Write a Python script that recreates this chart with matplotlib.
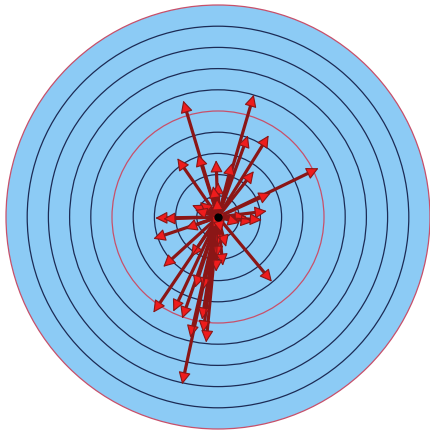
import numpy as np
import matplotlib
matplotlib.use('Agg')
import matplotlib.pyplot as plt
from matplotlib.patches import Circle

# arrow tips, in ring units (centre = 0, outer ring = 10)
tip_x = [1.69, -1.64, 1.41, 2.39, 4.74, -1.92, -0.94, -0.09, 0.66, 1.69,
         2.49, 0.00, -0.23, -0.05, -1.22, -0.85, -1.08, -0.33, 2.30, -2.96,
         -2.58, -3.05, -1.55, 1.36, 1.64, 2.07, 1.03, 0.23, 2.54, -2.58,
         -1.27, 0.00, 0.38, -0.05, 0.23, -0.09, -3.05, -2.11, -1.69, -1.08,
         -0.70, -0.75, -1.31, -0.70, -0.56, -1.69, -0.25, 0.15]
tip_y = [5.77, 5.49, 3.85, 3.85, 2.30, 2.77, 2.96, 2.68, 2.54, 2.16,
         1.13, 1.64, 1.46, 0.89, 0.56, 0.70, 0.33, 0.15, 0.28, -0.05,
         -0.09, -1.03, -0.56, 0.00, -0.23, -0.14, -0.28, -0.33, -3.05, -2.35,
         -1.88, -1.36, -1.41, -1.92, -2.30, -2.58, -4.51, -4.46, -4.79, -3.33,
         -3.43, -4.84, -5.68, -5.45, -5.92, -7.89, -0.55, -0.75]
rings = [1, 2, 3, 4, 5, 6, 7, 8, 9, 10]
red_rings = [5, 10]

px = 21.2  # pixels per ring unit
W, H = 431, 434
cx, cy = 218, 217

fig = plt.figure(figsize=(W / 100, H / 100), dpi=100)
ax = fig.add_axes([0, 0, 1, 1])
ax.set_xlim(-cx / px, (W - cx) / px)
ax.set_ylim(-(H - cy) / px, cy / px)
ax.set_aspect('equal')
ax.axis('off')

ax.add_patch(Circle((0, 0), max(rings), facecolor='#8ccbf5', edgecolor='none', zorder=0))
for r in rings:
    col = '#c8506a' if r in red_rings else '#1c2b55'
    ax.add_patch(Circle((0, 0), r, facecolor='none', edgecolor=col, lw=0.9, zorder=1))

head = 10 / px
for x, y in zip(tip_x, tip_y):
    L = np.hypot(x, y)
    f = max(L - head, 0) / L
    ax.plot([0, x * f], [0, y * f], color='#8b1616', lw=2.3, solid_capstyle='butt', zorder=3)
for x, y in zip(tip_x, tip_y):
    ax.annotate('', xy=(x, y), xytext=(0, 0),
                arrowprops=dict(arrowstyle='-|>,head_length=0.75,head_width=0.38',
                                fc='#ee1c1c', ec='#8b1616', lw=0.8, shrinkA=0, shrinkB=0),
                zorder=4)
ax.plot(0, 0, 'o', color='black', ms=5, zorder=5)

plt.savefig('out.png', dpi=100)
